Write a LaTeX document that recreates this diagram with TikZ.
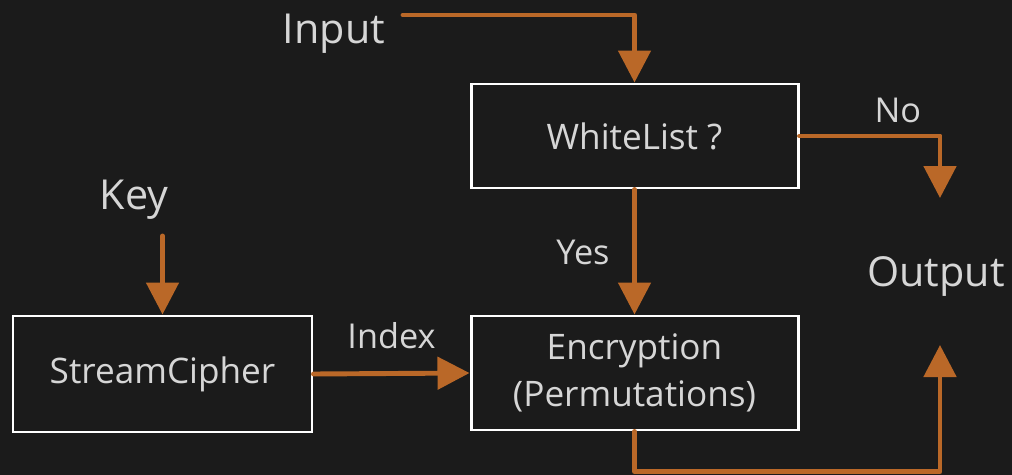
\documentclass[tikz,border=0pt]{standalone}
\usepackage{fontspec}
\setmainfont{Open Sans}
\usepackage{tikz}
\usetikzlibrary{arrows.meta}
\definecolor{darkbg}{RGB}{27,27,27}
\definecolor{flowor}{RGB}{186,104,40}
\definecolor{txtgray}{RGB}{214,214,214}
\tikzset{
  boxtxt/.style={text=txtgray, font=\fontsize{20}{26.6}\selectfont, align=center},
  blk/.style={boxtxt, draw=white, line width=1.7pt, inner sep=0pt},
  outer/.style={text=txtgray, font=\fontsize{23.5}{28}\selectfont, inner sep=0pt},
  lbl/.style={text=txtgray, font=\fontsize{19.5}{23}\selectfont, inner sep=0pt},
  flow/.style={-{Triangle[length=0.64cm, width=0.64cm]}, line width=2.8pt, draw=flowor,
    line cap=round, line join=round},
}

\begin{document}
\begin{tikzpicture}
  \fill[darkbg] (0,0) rectangle (20.24,-9.5);
  \useasboundingbox (0,0) rectangle (20.24,-9.5);
  % blocks
  \node[blk, minimum width=6.54cm, minimum height=2.08cm] (wl)  at (12.69,-2.72) {WhiteList ?};
  \node[blk, minimum width=6.54cm, minimum height=2.28cm] (enc) at (12.69,-7.46) {Encryption\\(Permutations)};
  \node[blk, minimum width=5.98cm, minimum height=2.32cm] (sc)  at (3.25,-7.48) {StreamCipher};
  % outside texts
  \node[outer] (input)  at (6.68,-0.68)  {Input};
  \node[outer] (key)    at (2.68,-4.0) {Key};
  \node[outer] (output) at (18.72,-5.52) {Output};
  \coordinate (inStart)  at (8.06,-0.3);
  \coordinate (keyStart) at (3.25,-4.72);
  \coordinate (outTop)   at (18.8,-3.96);
  \coordinate (outBot)   at (18.8,-6.9);

  \draw[flow] (inStart) -| (wl.north);
  \draw[flow] (wl.east) -| node[lbl, pos=0.35, above=0.22cm] {No} (outTop);
  \draw[flow] (wl.south) -- node[lbl, left=0.45cm] {Yes} (enc.north);
  \draw[flow] (keyStart) -- (sc.north);
  \draw[flow] (sc.east) -- node[lbl, above=0.45cm] {Index} (enc.west);
  \draw[flow] (enc.south) -- ++(0,-0.8) -| (outBot);
\end{tikzpicture}
\end{document}
